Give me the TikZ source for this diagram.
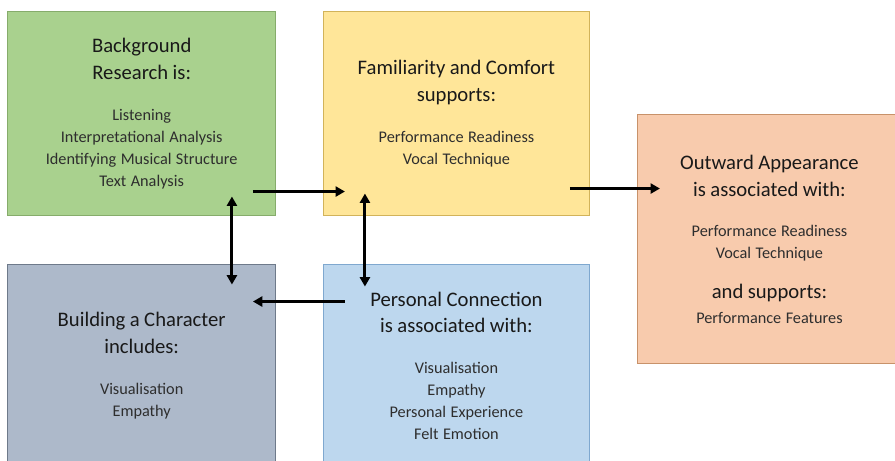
\documentclass[tikz,border=0pt]{standalone}
\usepackage{fontspec}
\setmainfont{Carlito}
\usepackage{tikz}
\usetikzlibrary{positioning, arrows.meta, calc}

\definecolor{bgfill}{HTML}{A9D18E}
\definecolor{bgline}{HTML}{86AC6B}
\definecolor{famfill}{HTML}{FFE699}
\definecolor{famline}{HTML}{D2B35A}
\definecolor{outfill}{HTML}{F8CBAD}
\definecolor{outline}{HTML}{C8926A}
\definecolor{buildfill}{HTML}{ADB9CA}
\definecolor{buildline}{HTML}{6E7A8A}
\definecolor{persfill}{HTML}{BDD7EE}
\definecolor{persline}{HTML}{7FA8CF}
\definecolor{itemgray}{HTML}{2E2E2E}

\newcommand{\boxhead}[1]{{\fontsize{15.5}{20}\selectfont\color{black!90}#1\par}}
\newcommand{\boxitems}[1]{\vspace{14pt}{\fontsize{12.2}{16.5}\selectfont\color{itemgray}#1\par}}

\tikzset{
  topic/.style={rectangle, draw, line width=0.75pt, align=center,
    text width=#1, inner sep=0pt},
  link/.style={line width=2.25pt, -{Triangle[length=7pt,width=7.5pt]}},
  twoway/.style={line width=2.25pt, {Triangle[length=7pt,width=7.5pt]}-{Triangle[length=7pt,width=7.5pt]}}
}

\begin{document}
\begin{tikzpicture}
        \node[topic=195pt, fill=bgfill, draw=bgline, minimum width=200.6pt, minimum height=152.3pt](bg){%
          \boxhead{Background\\Research is:}%
          \boxitems{Listening\\Interpretational Analysis\\Identifying Musical Structure\\Text Analysis}};
        \node[topic=195pt, fill=famfill, draw=famline, minimum width=199.5pt, minimum height=152.3pt](fam)[right = 35.25pt of bg]{%
          \boxhead{Familiarity and Comfort\\supports:}%
          \boxitems{Performance Readiness\\Vocal Technique}};
        \node[topic=195pt, fill=buildfill, draw=buildline, minimum width=200.6pt, minimum height=152.3pt](build)[below = 36pt of bg]{%
          \boxhead{Building a Character\\includes:}%
          \boxitems{Visualisation\\Empathy}};
        \node[topic=195pt, fill=persfill, draw=persline, minimum width=199.5pt, minimum height=152.3pt](pers)[right = 35.25pt of build]{%
          \boxhead{Personal Connection\\is associated with:}%
          \boxitems{Visualisation\\Empathy\\Personal Experience\\Felt Emotion}};
        \node[topic=195pt, fill=outfill, draw=outline, minimum width=198pt, minimum height=186.75pt, anchor=north west](out)
          at ([xshift=35.25pt, yshift=-77.25pt]fam.north east){%
          \boxhead{Outward Appearance\\is associated with:}%
          \boxitems{Performance Readiness\\Vocal Technique}%
          \vspace{10pt}\boxhead{and supports:}%
          \vspace{2pt}{\fontsize{12.2}{16.5}\selectfont\color{itemgray}Performance Features\par}};

        \pgfresetboundingbox
        \useasboundingbox ([shift={(-5.6pt,8.6pt)}]bg.north west) rectangle ++(671.25pt,-345pt);

        \draw[link] ([shift={(-17.25pt,18pt)}]bg.south east) -- ([shift={(16.5pt,18pt)}]fam.south west);
        \draw[link] ([shift={(-15pt,20.25pt)}]fam.south east) -- ($(out.west |- fam.south east)+(17.25pt,20.25pt)$);
        \draw[link] ([shift={(16.5pt,-28.5pt)}]pers.north west) -- ([shift={(-17.25pt,-28.5pt)}]build.north east);
        \draw[twoway] ([shift={(-33pt,14.25pt)}]bg.south east) -- ([shift={(-33pt,-15.75pt)}]build.north east);
        \draw[twoway] ([shift={(31.5pt,16.5pt)}]fam.south west) -- ([shift={(31.5pt,-17.25pt)}]pers.north west);
    \end{tikzpicture}
\end{document}
